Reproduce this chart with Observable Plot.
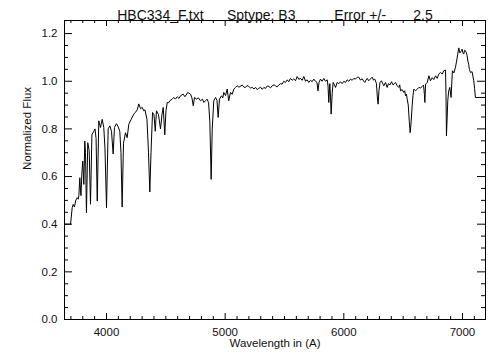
<!DOCTYPE html>
<html><head><meta charset="utf-8">
<script src="https://cdn.jsdelivr.net/npm/d3@7"></script>
<script src="https://cdn.jsdelivr.net/npm/@observablehq/plot@0.6"></script>
<style>html,body{margin:0;padding:0;background:#fff;}</style>
</head><body><div id="chart"></div>
<script>
const wavelength = [
 3646,3697,3711,3719,3730,3741,3753,3762,3767,3775,
 3781,3785,3792,3800,3809,3817,3823,3831,3842,3854,
 3865,3877,3893,3903,3912,3922,3935,3949,3964,3977,
 3987,4000,4014,4028,4042,4056,4067,4084,4099,4112,
 4122,4132,4143,4160,4174,4188,4208,4230,4244,4259,
 4272,4287,4301,4314,4324,4341,4354,4365,4375,4388,
 4400,4411,4421,4438,4455,4468,4478,4491,4501,4512,
 4525,4533,4554,4567,4581,4596,4611,4624,4646,4661,
 4685,4708,4720,4731,4742,4758,4775,4792,4809,4820,
 4834,4847,4860,4871,4882,4891,4904,4919,4931,4941,
 4952,4969,4980,4988,5003,5017,5030,5045,5059,5073,
 5087,5101,5116,5144,5159,5171,5184,5199,5214,5228,
 5243,5256,5270,5283,5298,5312,5326,5340,5354,5368,
 5382,5396,5412,5424,5437,5452,5466,5480,5494,5508,
 5523,5536,5550,5565,5578,5593,5607,5621,5635,5649,
 5663,5677,5691,5705,5719,5733,5747,5761,5774,5782,
 5791,5803,5817,5831,5846,5860,5867,5873,5882,5888,
 5893,5902,5910,5921,5930,5944,5958,5972,5986,6000,
 6014,6028,6042,6056,6070,6084,6098,6113,6126,6140,
 6155,6168,6177,6187,6197,6210,6225,6239,6250,6261,
 6275,6283,6289,6296,6305,6317,6328,6337,6351,6365,
 6376,6389,6402,6414,6427,6435,6450,6463,6471,6478,
 6492,6506,6513,6520,6528,6534,6543,6552,6559,6566,
 6576,6583,6590,6604,6619,6632,6647,6661,6672,6679,
 6683,6689,6703,6717,6730,6745,6758,6773,6787,6800,
 6815,6829,6842,6857,6861,6865,6871,6876,6884,6893,
 6904,6915,6928,6941,6949,6960,6969,6976,6983,6992,
 6997,7004,7011,7018,7024,7033,7039,7045,7052,7058,
 7067,7081,7095,7102,7109,7194
];
const flux = [
 0.40,0.40,0.47,0.483,0.472,0.50,0.511,0.505,0.52,0.595,
 0.54,0.52,0.61,0.665,0.567,0.749,0.70,0.448,0.742,0.71,
 0.484,0.775,0.79,0.80,0.76,0.497,0.834,0.806,0.84,0.806,
 0.72,0.469,0.80,0.813,0.79,0.695,0.806,0.822,0.808,0.79,
 0.70,0.472,0.74,0.784,0.763,0.82,0.84,0.862,0.87,0.88,
 0.905,0.885,0.89,0.876,0.88,0.84,0.70,0.535,0.70,0.869,
 0.86,0.79,0.876,0.86,0.80,0.862,0.89,0.775,0.876,0.911,
 0.91,0.918,0.925,0.932,0.925,0.935,0.928,0.939,0.946,0.935,
 0.953,0.946,0.93,0.897,0.932,0.925,0.93,0.918,0.925,0.911,
 0.918,0.925,0.911,0.83,0.588,0.80,0.918,0.932,0.92,0.848,
 0.925,0.939,0.93,0.953,0.94,0.967,0.918,0.953,0.945,0.967,
 0.974,0.981,0.975,0.984,0.975,0.974,0.982,0.978,0.972,0.974,
 0.968,0.974,0.965,0.97,0.975,0.966,0.974,0.97,0.98,0.978,
 0.972,0.981,0.985,0.981,0.976,0.984,0.99,0.988,1.0,0.995,
 1.006,0.998,1.012,1.004,1.01,1.002,1.02,1.008,1.012,1.004,
 1.02,1.0,1.006,0.995,1.004,0.998,1.009,1.0,0.995,0.96,
 0.995,1.009,1.0,1.012,1.0,1.006,0.98,0.911,0.99,0.93,
 0.862,0.95,0.995,0.985,0.974,0.995,0.99,0.998,0.99,1.0,
 0.995,1.006,1.0,1.009,1.004,1.012,1.009,1.017,1.017,1.005,
 1.01,1.0,0.995,1.005,1.012,1.002,1.01,1.017,1.005,1.009,
 0.99,0.93,0.904,0.96,0.995,1.002,0.99,0.981,0.995,0.974,
 0.99,0.985,0.998,0.985,0.99,0.995,0.981,0.974,0.985,0.96,
 0.965,0.953,0.96,0.939,0.945,0.925,0.90,0.83,0.784,0.82,
 0.897,0.94,0.967,0.96,0.967,0.974,0.972,0.978,0.984,0.945,
 0.911,0.988,0.995,1.023,1.002,1.015,1.007,1.023,1.012,1.03,
 1.037,1.03,1.044,1.047,0.95,0.771,0.85,0.918,0.96,0.974,
 0.932,1.044,1.035,1.059,1.08,1.114,1.14,1.12,1.121,1.13,
 1.135,1.118,1.114,1.13,1.128,1.12,1.107,1.085,1.072,1.05,
 1.037,1.04,1.002,0.97,0.932,0.932
];
const xMajorTicks = [4000, 5000, 6000, 7000];
const xMinorTicks = d3.range(3700, 7200, 100).filter(v => v % 1000 !== 0);
const yMajorTicks = [0, 0.2, 0.4, 0.6, 0.8, 1.0, 1.2];
const yMinorTicks = d3.range(0.05, 1.25, 0.05).filter(v => Math.abs(v / 0.2 - Math.round(v / 0.2)) > 1e-6);
const nb = n => "\u00a0".repeat(n);
const titleText = "HBC334_F.txt" + nb(6) + "Sptype: B3" + nb(10) + "Error +/-" + nb(7) + "2.5";
const xLabel = "Wavelength in (A)";
const yLabel = "Normalized Flux";

const data = wavelength.map((w, i) => ({w, f: flux[i]}));

const W = 504, H = 360, mL = 64, mR = 19, mT = 20, mB = 41;
const fw = W - mL - mR, fh = H - mT - mB;

const chart = Plot.plot({
  width: W, height: H,
  marginLeft: mL, marginRight: mR, marginTop: mT, marginBottom: mB,
  x: {domain: [3646, 7194]},
  y: {domain: [0, 1.255]},
  style: {fontFamily: "Liberation Sans, Arial, sans-serif", fontSize: "11.5px", color: "#111", background: "#fff"},
  marks: [
    Plot.line(data, {x: "w", y: "f", stroke: "#000", strokeWidth: 1}),
    Plot.frame({stroke: "#000", strokeWidth: 1}),
    Plot.ruleX(xMajorTicks, {stroke: "#000", insetTop: fh - 6}),
    Plot.ruleX(xMajorTicks, {stroke: "#000", insetBottom: fh - 6}),
    Plot.ruleX(xMinorTicks, {stroke: "#000", insetTop: fh - 3}),
    Plot.ruleX(xMinorTicks, {stroke: "#000", insetBottom: fh - 3}),
    Plot.ruleY(yMajorTicks, {stroke: "#000", insetRight: fw - 8}),
    Plot.ruleY(yMajorTicks, {stroke: "#000", insetLeft: fw - 8}),
    Plot.ruleY(yMinorTicks, {stroke: "#000", insetRight: fw - 4}),
    Plot.ruleY(yMinorTicks, {stroke: "#000", insetLeft: fw - 4}),
    Plot.axisX(xMajorTicks, {tickSize: 0, tickPadding: 8, label: null, tickFormat: d => String(d)}),
    Plot.axisY(yMajorTicks, {tickSize: 0, tickPadding: 7, label: null, tickFormat: d3.format(".1f")}),
    Plot.text([xLabel], {frameAnchor: "bottom", dy: 27, fill: "#111"}),
    Plot.text([yLabel], {frameAnchor: "left", dx: -37, rotate: -90, fill: "#111"}),
    Plot.text([titleText], {frameAnchor: "top", dy: -10, fill: "#111", fontSize: 14})
  ]
});
document.getElementById("chart").appendChild(chart);
</script>
</body></html>
